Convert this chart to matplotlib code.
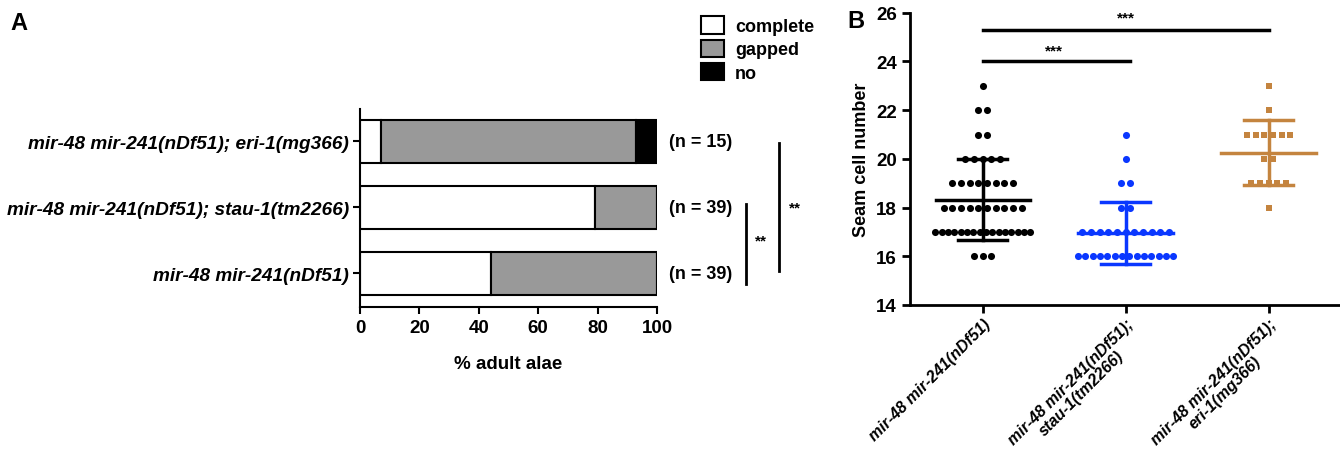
import numpy as np
import matplotlib
matplotlib.use('Agg')
import matplotlib.pyplot as plt
from matplotlib.patches import Patch

plt.rcParams['font.family'] = ['Liberation Sans', 'DejaVu Sans']
plt.rcParams['font.weight'] = 'bold'

#-=-=-=-
# data
#-=-=-=-

# panel A: % adult alae (bottom to top)
strains_a = ['mir-48 mir-241(nDf51)',
             'mir-48 mir-241(nDf51); stau-1(tm2266)',
             'mir-48 mir-241(nDf51); eri-1(mg366)']
complete = [44, 79, 7]
gapped = [56, 21, 86]
no_alae = [0, 0, 7]
n_a = [39, 39, 15]

# panel B: seam cell counts, value -> number of animals
strains_b = ['mir-48 mir-241(nDf51)',
             'mir-48 mir-241(nDf51);\nstau-1(tm2266)',
             'mir-48 mir-241(nDf51);\neri-1(mg366)']
seam_vals = [16, 17, 18, 19, 20, 21, 22, 23]
counts_ndf51 = [3, 16, 10, 8, 5, 2, 2, 1]
counts_stau1 = [14, 11, 2, 2, 1, 1, 0, 0]
counts_eri1 = [0, 0, 1, 5, 2, 6, 1, 1]

colors_b = ['black', '#0a37ff', '#c4843f']
markers_b = ['o', 'o', 's']
sizes_b = [26, 26, 20]

fig = plt.figure(figsize=(13.4, 4.6), dpi=100)

#-=-=-=-
# panel A
#-=-=-=-

axA = fig.add_axes([0.2687, 0.330, 0.2216, 0.430])
pos = np.arange(len(strains_a))
h = 0.65
left = np.zeros(3)
for vals, col, lab in [(complete, 'white', 'complete'),
                       (gapped, '#999999', 'gapped'),
                       (no_alae, 'black', 'no')]:
    axA.barh(pos, vals, height=h, left=left, color=col,
             edgecolor='black', linewidth=1.5, label=lab)
    left += np.array(vals)

axA.set_xlim(0, 100)
axA.set_ylim(-0.515, 2.485)
axA.set_yticks(pos)
axA.set_yticklabels(strains_a, fontsize=13.7, fontstyle='italic', fontweight='bold')
axA.set_xticks([0, 20, 40, 60, 80, 100])
axA.tick_params(axis='x', labelsize=13.5, width=1.5, length=5)
axA.tick_params(axis='y', width=1.5, length=5, pad=3)
axA.set_xlabel('% adult alae', fontsize=13.5, fontweight='bold', labelpad=14)
for s in ['top', 'right']:
    axA.spines[s].set_visible(False)
for s in ['left', 'bottom']:
    axA.spines[s].set_linewidth(1.5)

for p, n in zip(pos, n_a):
    axA.text(104, p, '(n = %d)' % n, va='center', ha='left',
             fontsize=13, fontweight='bold', clip_on=False)

axA.plot([130, 130], [-0.17, 1.05], color='black', lw=2, clip_on=False)
axA.text(133, 0.43, '**', fontsize=11, fontweight='bold', clip_on=False)
axA.plot([141, 141], [0.03, 1.98], color='black', lw=2, clip_on=False)
axA.text(144.5, 0.93, '**', fontsize=11, fontweight='bold', clip_on=False)

handles = [Patch(facecolor='white', edgecolor='black', lw=1.5, label='complete'),
           Patch(facecolor='#999999', edgecolor='black', lw=1.5, label='gapped'),
           Patch(facecolor='black', edgecolor='black', lw=1.5, label='no')]
fig.legend(handles=handles, loc='upper left', bbox_to_anchor=(0.514, 0.99),
           frameon=False, fontsize=13, handlelength=1.25, handleheight=1.1,
           handletextpad=0.6, labelspacing=0.25, borderpad=0.2)

fig.text(0.008, 0.935, 'A', fontsize=17, fontweight='bold')
fig.text(0.632, 0.94, 'B', fontsize=17, fontweight='bold')

#-=-=-=-
# panel B
#-=-=-=-

axB = fig.add_axes([0.679, 0.335, 0.321, 0.635])
px = 1 / 143.0
for gi, cnts in enumerate([counts_ndf51, counts_stau1, counts_eri1]):
    allv = []
    for v, c in zip(seam_vals, cnts):
        if c == 0:
            continue
        sp = min(8.7, 95.0 / max(c - 1, 1)) * px
        xs = gi + (np.arange(c) - (c - 1) / 2.0) * sp
        axB.scatter(xs, [v] * c, s=sizes_b[gi], marker=markers_b[gi],
                    color=colors_b[gi], linewidths=0, zorder=3)
        allv += [v] * c
    allv = np.array(allv)
    m = allv.mean()
    sd = allv.std(ddof=1)
    axB.plot([gi - 0.33, gi + 0.33], [m, m], color=colors_b[gi], lw=2.5, zorder=4)
    axB.plot([gi, gi], [m - sd, m + sd], color=colors_b[gi], lw=2.5, zorder=4)
    for e in (m - sd, m + sd):
        axB.plot([gi - 0.17, gi + 0.17], [e, e], color=colors_b[gi], lw=2.5, zorder=4)

axB.set_xlim(-0.51, 2.5)
axB.set_ylim(14, 26)
axB.set_yticks(np.arange(14, 27, 2))
axB.set_xticks([0, 1, 2])
axB.set_xticklabels(strains_b, rotation=45, ha='right', rotation_mode='anchor',
                    fontsize=11.5, fontstyle='italic', fontweight='bold',
                    multialignment='center', linespacing=1.05)
axB.tick_params(axis='both', width=2, length=6, labelsize=13.5)
axB.tick_params(axis='x', labelsize=11.5, pad=2)
axB.set_ylabel('Seam cell number', fontsize=13, fontweight='bold')
for s in ['top', 'right']:
    axB.spines[s].set_visible(False)
for s in ['left', 'bottom']:
    axB.spines[s].set_linewidth(2)

axB.plot([0, 1.03], [24, 24], color='black', lw=2.5, clip_on=False)
axB.text(0.5, 24.3, '***', ha='center', fontsize=11, fontweight='bold')
axB.plot([0, 2], [25.3, 25.3], color='black', lw=2.5, clip_on=False)
axB.text(1.0, 25.65, '***', ha='center', fontsize=11, fontweight='bold', clip_on=False)

fig.savefig('out.png', dpi=100)
